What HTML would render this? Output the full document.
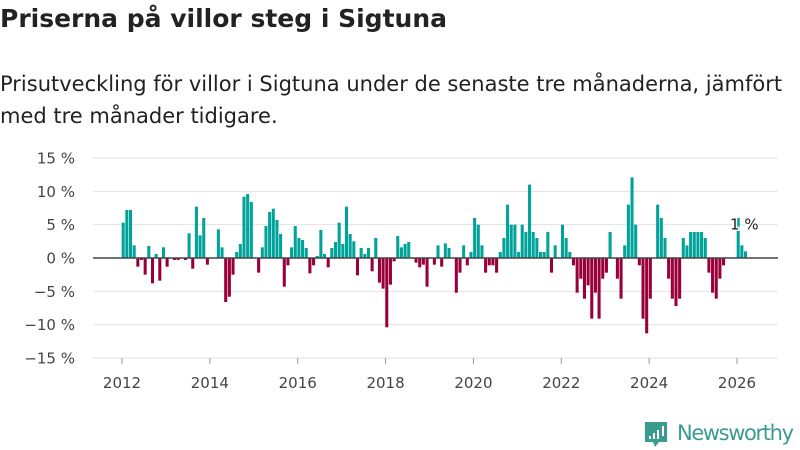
<!DOCTYPE html>
<html><head><meta charset="utf-8"><style>
body{margin:0;background:#fff;font-family:"DejaVu Sans","Liberation Sans",sans-serif;}
#wrap{position:relative;width:800px;height:450px;overflow:hidden;}
h1{position:absolute;left:0;top:4px;margin:0;font-size:25px;font-weight:bold;color:#222;white-space:nowrap;}
p{position:absolute;left:0;top:68px;margin:0;font-size:21px;line-height:32px;color:#222;width:810px;white-space:nowrap;letter-spacing:0;}
</style></head><body>
<div id="wrap">
<h1>Priserna på villor steg i Sigtuna</h1>
<p>Prisutveckling för villor i Sigtuna under de senaste tre månaderna, jämfört<br>med tre månader tidigare.</p>
<svg id="chart" width="800" height="450" style="position:absolute;left:0;top:0"></svg>
</div>
<script>
const startYear = 2012;
const values = [5.3,7.2,7.2,1.9,-1.3,-0.3,-2.5,1.8,-3.8,0.6,-3.4,1.6,-1.3,0,-0.3,-0.3,0,-0.3,3.7,-1.6,
7.7,3.4,6.0,-1.0,0,0,4.3,1.6,-6.6,-5.8,-2.5,0.9,2.1,9.2,9.6,8.4,0,-2.2,1.6,4.8,
6.9,7.4,5.7,3.6,-4.3,-1.1,1.6,4.8,3.0,2.7,1.5,-2.3,-1.1,0.3,4.2,0.6,-1.4,1.5,2.4,5.3,
2.1,7.7,3.6,2.5,-2.6,1.5,0.6,1.5,-2.0,3.0,-3.7,-4.6,-10.4,-4.0,-0.5,3.3,1.6,2.1,2.4,0,
-0.7,-1.4,-1.0,-4.3,0,-1.0,1.9,-1.3,2.2,1.5,0,-5.2,-2.2,1.9,-1.1,0.9,6.0,5.0,1.9,-2.2,
-1.1,-1.1,-2.2,0.9,3.0,8.0,5.0,5.0,0.9,5.0,3.9,11.0,3.9,3.0,0.9,0.9,3.9,-2.2,1.9,0,
5.0,3.0,0.9,-1.1,-5.2,-3.1,-6.1,-4.1,-9.1,-5.2,-9.1,-3.1,-2.2,3.9,0,-3.1,-6.1,1.9,8.0,12.1,
5.0,-1.1,-9.1,-11.3,-6.1,0,8.0,6.0,3.0,-3.1,-6.1,-7.2,-6.1,3.0,1.9,3.9,3.9,3.9,3.9,3.0,
-2.2,-5.2,-6.1,-3.1,-1.1,0,0,0,6.0,1.9,1.0];
const yTicks = [15,10,5,0,-5,-10,-15];
const xTicks = [2012,2014,2016,2018,2020,2022,2024,2026];
const lastLabel = "1 %";

const svg = document.getElementById('chart');
const NS = 'http://www.w3.org/2000/svg';
const x0 = 122, pxPerYear = (737 - 122) / 14;
const xScale = t => x0 + (t - startYear) * pxPerYear;
const yScale = v => 258 - v * (200 / 30);
function mk(tag, attrs){const e=document.createElementNS(NS,tag);for(const k in attrs)e.setAttribute(k,attrs[k]);svg.appendChild(e);return e;}

yTicks.forEach(v=>{
  const g = mk('line',{x1:93,x2:778,y1:yScale(v),y2:yScale(v),stroke:'#e2e2e2','stroke-width':1});
  
  
  const t = mk('text',{x:75,y:yScale(v)+5.5,'text-anchor':'end','font-size':15,fill:'#444'});
  t.textContent = (v<0?'−':'') + Math.abs(v) + ' %';
  
  
});
xTicks.forEach(y=>{
  const l = mk('line',{x1:xScale(y),x2:xScale(y),y1:358,y2:364,stroke:'#999'});
  
  
  const t = mk('text',{x:xScale(y),y:388,'text-anchor':'middle','font-size':15,fill:'#444'});
  t.textContent = y;
  
  
});
const bw = pxPerYear/12;
values.forEach((v,i)=>{
  const cx = xScale(startYear + i/12) + 1.2;
  const y1 = yScale(Math.max(v,0)), y2 = yScale(Math.min(v,0));
  const r = mk('rect',{x:cx-bw/2+0.3,y:y1,width:bw-0.6,height:Math.max(y2-y1,0),fill:v>=0?'#00a39a':'#99003a'});
  
  
});
const zl = mk('line',{x1:93,x2:778,y1:yScale(0),y2:yScale(0),stroke:'#444','stroke-width':1.5});


const li = values.length-1;
const lt = mk('text',{x:xScale(startYear+li/12),y:yScale(values[li])-22,'text-anchor':'middle','font-size':15,fill:'#222',stroke:'#fff','stroke-width':3,'paint-order':'stroke'});
lt.textContent = lastLabel;



const bx = mk('path',{d:'M645 422 h22 v20 h-8 l-4 5 l-2 -5 h-8 z',fill:'#3a9c8f'});


[[649,436,2,3],[653,433,2,6],[657,430,2,9],[662,426,2,10]].forEach(a=>{
  const r=mk('rect',{x:a[0],y:a[1],width:a[2],height:a[3],fill:'#fff'});
  
  
});
const lt2 = mk('text',{x:677,y:440,'font-size':21,fill:'#3a9c8f',textLength:117});
lt2.textContent='Newsworthy';


</script>
</body></html>
